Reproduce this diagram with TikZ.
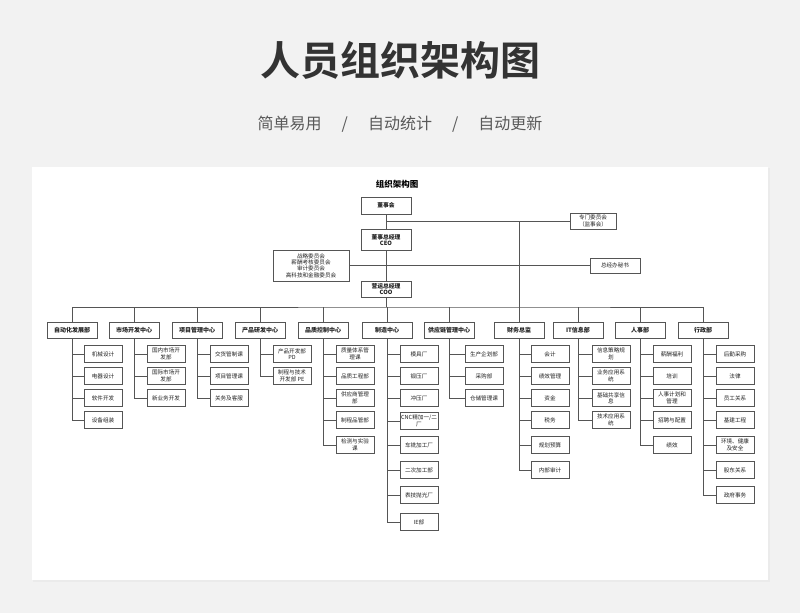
\documentclass[tikz,border=0pt]{standalone}
\usepackage{fontspec}
\setmainfont{Noto Sans CJK SC}
\newfontfamily\cjkb{Noto Sans CJK SC Bold}
\definecolor{bg}{HTML}{F2F2F2}
\definecolor{ln}{HTML}{555555}
\definecolor{tx}{HTML}{222222}
\tikzset{
 box/.style={draw=ln,line width=0.7pt,fill=white,text=tx,inner sep=0.5pt,align=center,font=\fontsize{5.6}{6.4}\selectfont},
 lvone/.style={box,minimum width=50pt,minimum height=16pt,font=\bfseries\fontsize{6}{7}\selectfont},
 kid/.style={box,minimum width=38pt,minimum height=17pt},
 conn/.style={draw=ln,line width=0.7pt}
}
\newcommand\mkgroup[4]{%
 \foreach \yy/\tt [count=\i] in {#4}{
  \node[kid] (#2\i) at (#3,\yy) {\tt};
  \draw[conn] (#1.south) |- (#2\i.west);
 }}
\begin{document}
\begin{tikzpicture}[x=1pt,y=-1pt]
\fill[bg] (0,0) rectangle (800,613);
\useasboundingbox (0,0) rectangle (800,613);
\fill[black!8] (33,168) rectangle (770,582);
\fill[white] (32,167) rectangle (768,580);
\node[font=\cjkb\fontsize{40}{44}\selectfont,text=black!80] (title) at (400,60) {人员组织架构图};
\node[font=\fontsize{16}{18}\selectfont,text=black!65] (sub) at (400,124) {简单易用\hspace{20pt}/\hspace{20pt}自动统计\hspace{20pt}/\hspace{20pt}自动更新};
\node[font=\bfseries\fontsize{8.5}{10}\selectfont,text=black] (ct) at (397,184) {组织架构图};
% top
\node[box,minimum width=50pt,minimum height=17pt,font=\bfseries\fontsize{5.8}{6.6}\selectfont] (dsh) at (386,205.5) {董事会};
\node[box,minimum width=50pt,minimum height=21pt,font=\bfseries\fontsize{5.8}{6.6}\selectfont] (ceo) at (386,240) {董事总经理\\CEO};
\node[box,minimum width=50pt,minimum height=16pt,font=\bfseries\fontsize{5.8}{6.6}\selectfont] (coo) at (386,289) {营运总经理\\COO};
\node[box,minimum width=76pt,minimum height=31pt] (wyh) at (311,265.5) {战略委员会\\薪酬考核委员会\\审计委员会\\高科技和金融委员会};
\node[box,minimum width=46pt,minimum height=16pt] (zmw) at (593,221) {专门委员会\\（监事会）};
\node[box,minimum width=50pt,minimum height=15pt] (msh) at (615,265.5) {总经办秘书};
\coordinate (j1) at (386,221);
\coordinate (j2) at (519,221);
\coordinate (bus) at (519,307);
\draw[conn] (dsh) -- (ceo);
\draw[conn] (ceo) -- (coo);
\draw[conn] (j1) -- (zmw.west);
\draw[conn] (wyh.east) -- (msh.west);
\draw[conn] (j2) -- (bus);
% level 1
\foreach \x/\t/\n in {72/自动化发展部/A,134/市场开发中心/B,197/项目管理中心/C,260/产品研发中心/D,323/品质控制中心/E,387/制造中心/F,449/供应链管理中心/G,519/财务总监/H,578/IT信息部/I,640/人事部/J,703/行政部/K}{
 \node[lvone] (\n) at (\x,330) {\t};
}
\draw[conn] (coo) -- (coo |- 0,307);
\draw[conn] (A.north) |- (bus) -| (K.north);
\foreach \n in {B,C,D,E,F,G,H,I,J}{\draw[conn] (\n.north) -- (\n.north |- bus);}
% level 2
\mkgroup{A}{a}{103}{354/机械设计,376/电器设计,398/软件开发,420/设备组装}
\mkgroup{B}{b}{166}{354/{国内市场开\\发部},376/{国际市场开\\发部},398/新业务开发}
\mkgroup{C}{c}{229}{354/交货管制课,376/项目管理课,398/关务及客服}
\mkgroup{D}{d}{292}{354/{产品开发部\\PD},376/{制程与技术\\开发部 PE}}
\mkgroup{E}{e}{355}{354/{质量体系管\\理课},376/品质工程部,398/{供应商管理\\部},420/制程品管部,445/{检测与实验\\课}}
\mkgroup{F}{f}{419}{354/模具厂,376/锻压厂,398/冲压厂,421/{CNC精加一/二\\厂},445/车铣加工厂,470/二次加工部,495/表技抛光厂,522/IE部}
\mkgroup{G}{g}{484}{354/生产企划部,376/采购部,398/仓储管理课}
\mkgroup{H}{h}{550}{354/会计/出纳,376/绩效管理,398/资金,420/税务,445/规划预算,470/内部审计}
\mkgroup{I}{i}{611}{354/{信息策略规\\划},376/{业务应用系\\统},398/{基础共享信\\息},420/{技术应用系\\统}}
\mkgroup{J}{j}{672}{354/薪酬福利,376/培训,398/{人事计划和\\管理},420/招聘与配置,445/绩效}
\mkgroup{K}{k}{735}{354/后勤采购,376/法律,398/员工关系,420/基建工程,445/{环境、健康\\及安全},470/股东关系,495/政府事务}
\end{tikzpicture}
\end{document}
